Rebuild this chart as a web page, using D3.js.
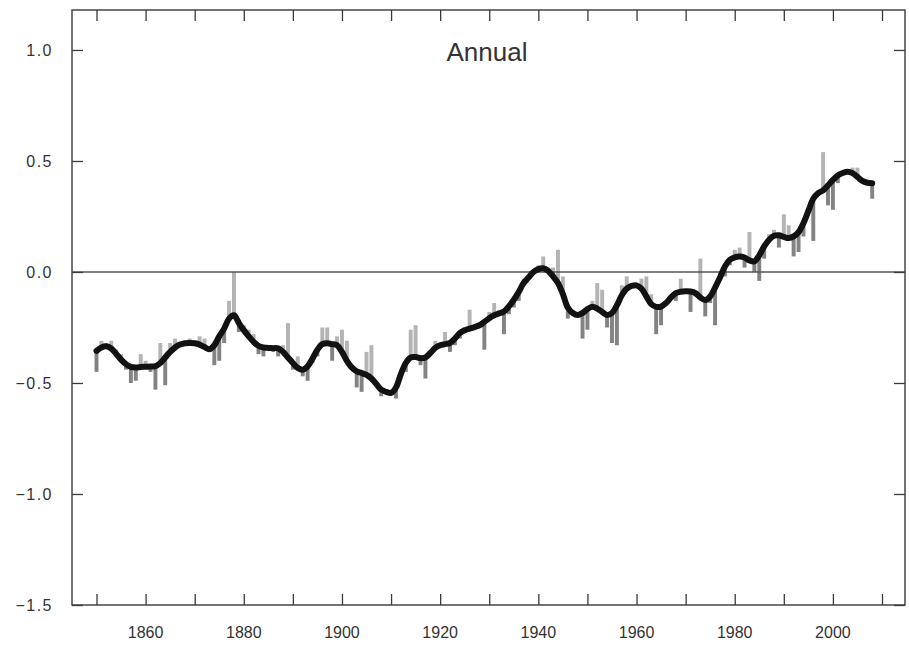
<!DOCTYPE html>
<html>
<head>
<meta charset="utf-8">
<script src="https://cdn.jsdelivr.net/npm/d3@7"></script>
<style>
  html, body { margin: 0; padding: 0; background: #ffffff; }
  svg { display: block; }
  text { font-family: "Liberation Sans", Arial, Helvetica, sans-serif; fill: #333; }
</style>
</head>
<body>
<svg id="chart" width="909" height="648"></svg>
<script>
// Global mean temperature anomaly (°C), annual values 1850–2008
const firstYear = 1850;
const annual = [
  -0.45, -0.31, -0.32, -0.31, -0.35, -0.37, -0.44, -0.50, -0.49, -0.37,
  -0.40, -0.45, -0.53, -0.32, -0.51, -0.32, -0.30, -0.33, -0.31, -0.30,
  -0.31, -0.29, -0.30, -0.36, -0.42, -0.40, -0.32, -0.13, 0.00, -0.27,
  -0.24, -0.26, -0.28, -0.37, -0.38, -0.35, -0.36, -0.38, -0.33, -0.23,
  -0.44, -0.38, -0.47, -0.49, -0.41, -0.38, -0.25, -0.25, -0.40, -0.29,
  -0.26, -0.31, -0.42, -0.52, -0.54, -0.36, -0.33, -0.50, -0.56, -0.54,
  -0.53, -0.57, -0.47, -0.45, -0.26, -0.24, -0.42, -0.48, -0.36, -0.31,
  -0.34, -0.27, -0.36, -0.33, -0.30, -0.25, -0.17, -0.24, -0.24, -0.35,
  -0.18, -0.14, -0.17, -0.28, -0.19, -0.16, -0.13, -0.03, -0.02, -0.01,
  0.03, 0.07, 0.02, 0.02, 0.10, -0.02, -0.21, -0.17, -0.19, -0.30,
  -0.26, -0.13, -0.05, -0.08, -0.25, -0.32, -0.33, -0.06, -0.02, -0.05,
  -0.06, -0.03, -0.02, -0.10, -0.28, -0.24, -0.14, -0.12, -0.13, -0.03,
  -0.09, -0.18, -0.11, 0.06, -0.20, -0.14, -0.24, 0.00, -0.02, 0.03,
  0.10, 0.11, 0.02, 0.18, 0.00, -0.04, 0.06, 0.17, 0.19, 0.11,
  0.26, 0.21, 0.07, 0.09, 0.16, 0.27, 0.14, 0.36, 0.54, 0.30,
  0.28, 0.40, 0.45, 0.46, 0.47, 0.47, 0.42, 0.40, 0.33
];

// Decadal-scale smoothed curve, one value per year
const smoothed = [
  -0.355, -0.340, -0.335, -0.345, -0.368, -0.395, -0.415, -0.427, -0.430, -0.428,
  -0.427, -0.426, -0.424, -0.410, -0.385, -0.360, -0.340, -0.327, -0.321, -0.320,
  -0.321, -0.327, -0.338, -0.348, -0.330, -0.290, -0.255, -0.210, -0.195, -0.230,
  -0.262, -0.290, -0.315, -0.333, -0.340, -0.342, -0.343, -0.344, -0.360, -0.385,
  -0.410, -0.432, -0.440, -0.425, -0.390, -0.350, -0.325, -0.321, -0.325, -0.330,
  -0.360, -0.400, -0.430, -0.448, -0.455, -0.464, -0.480, -0.505, -0.530, -0.540,
  -0.545, -0.520, -0.460, -0.410, -0.385, -0.383, -0.388, -0.385, -0.365, -0.342,
  -0.330, -0.325, -0.320, -0.300, -0.275, -0.262, -0.255, -0.248, -0.240, -0.225,
  -0.208, -0.195, -0.187, -0.178, -0.155, -0.125, -0.090, -0.050, -0.025, 0.000,
  0.013, 0.017, 0.005, -0.020, -0.050, -0.100, -0.160, -0.185, -0.194, -0.185,
  -0.167, -0.157, -0.165, -0.180, -0.194, -0.185, -0.150, -0.105, -0.075, -0.063,
  -0.060, -0.075, -0.110, -0.145, -0.157, -0.156, -0.140, -0.115, -0.095, -0.089,
  -0.087, -0.088, -0.095, -0.115, -0.126, -0.110, -0.070, -0.025, 0.025, 0.055,
  0.066, 0.070, 0.065, 0.052, 0.048, 0.075, 0.115, 0.145, 0.163, 0.165,
  0.158, 0.153, 0.160, 0.180, 0.220, 0.275, 0.330, 0.355, 0.368, 0.390,
  0.415, 0.435, 0.446, 0.452, 0.445, 0.428, 0.410, 0.402, 0.400
];

const xTickYears = [1850, 1860, 1870, 1880, 1890, 1900, 1910, 1920, 1930,
                    1940, 1950, 1960, 1970, 1980, 1990, 2000, 2010];
const xLabelYears = [1860, 1880, 1900, 1920, 1940, 1960, 1980, 2000];
const yTickValues = [-1.5, -1.0, -0.5, 0.0, 0.5, 1.0];
const title = "Annual";

const data = annual.map((v, i) => ({ year: firstYear + i, value: v, smooth: smoothed[i] }));

// Layout
const frame = { left: 72, right: 905, top: 10, bottom: 605 };
const svg = d3.select("#chart");

const x = d3.scaleLinear().domain([1850, 2010]).range([96.5, 882]);
const y = d3.scaleLinear().domain([-1.5, 1.18]).range([frame.bottom, frame.top]);

const barW = (x(1851) - x(1850)) * 0.8;

// Annual bars, drawn from the smoothed curve to each year's value
svg.append("g")
  .selectAll("rect")
  .data(data)
  .join("rect")
  .attr("x", d => x(d.year) - barW / 2)
  .attr("width", barW)
  .attr("y", d => y(Math.max(d.value, d.smooth)))
  .attr("height", d => Math.abs(y(d.value) - y(d.smooth)))
  .attr("fill", d => d.value >= d.smooth ? "#b4b4b4" : "#838383");

// Zero reference line
svg.append("line")
  .attr("x1", frame.left).attr("x2", frame.right)
  .attr("y1", y(0)).attr("y2", y(0))
  .attr("stroke", "#555").attr("stroke-width", 1.3);

// Smoothed curve
const line = d3.line()
  .x(d => x(d.year))
  .y(d => y(d.smooth))
  .curve(d3.curveCatmullRom.alpha(0.5));

svg.append("path")
  .datum(data)
  .attr("d", line)
  .attr("fill", "none")
  .attr("stroke", "#121212")
  .attr("stroke-width", 6)
  .attr("stroke-linejoin", "round")
  .attr("stroke-linecap", "round");

// Frame
svg.append("rect")
  .attr("x", frame.left).attr("y", frame.top)
  .attr("width", frame.right - frame.left)
  .attr("height", frame.bottom - frame.top)
  .attr("fill", "none").attr("stroke", "#3a3a3a").attr("stroke-width", 1.4);

// Inward ticks on all four sides
const tickLen = 11;
const bottomAxis = d3.axisTop(x).tickValues(xTickYears).tickSize(tickLen).tickFormat("");
const topAxis = d3.axisBottom(x).tickValues(xTickYears).tickSize(tickLen).tickFormat("");
const leftAxis = d3.axisRight(y).tickValues(yTickValues).tickSize(tickLen).tickFormat("");
const rightAxis = d3.axisLeft(y).tickValues(yTickValues).tickSize(tickLen).tickFormat("");

function styleAxis(g) {
  g.select(".domain").remove();
  g.selectAll(".tick line").attr("stroke", "#3a3a3a").attr("stroke-width", 1.3);
}
svg.append("g").attr("transform", `translate(0,${frame.bottom})`).call(bottomAxis).call(styleAxis);
svg.append("g").attr("transform", `translate(0,${frame.top})`).call(topAxis).call(styleAxis);
svg.append("g").attr("transform", `translate(${frame.left},0)`).call(leftAxis).call(styleAxis);
svg.append("g").attr("transform", `translate(${frame.right},0)`).call(rightAxis).call(styleAxis);

// Tick labels
const fmt = d3.format(".1f");
svg.append("g")
  .selectAll("text")
  .data(yTickValues)
  .join("text")
  .attr("x", 53)
  .attr("y", d => y(d))
  .attr("dy", "0.36em")
  .attr("text-anchor", "end")
  .attr("font-size", 16)
  .attr("letter-spacing", 1.5)
  .text(d => fmt(d));

svg.append("g")
  .selectAll("text")
  .data(xLabelYears)
  .join("text")
  .attr("x", d => x(d))
  .attr("y", 638)
  .attr("text-anchor", "middle")
  .attr("font-size", 16)
  .text(d => d);

// Title
svg.append("text")
  .attr("x", 487)
  .attr("y", 61)
  .attr("text-anchor", "middle")
  .attr("font-size", 26)
  .text(title);
</script>
</body>
</html>
